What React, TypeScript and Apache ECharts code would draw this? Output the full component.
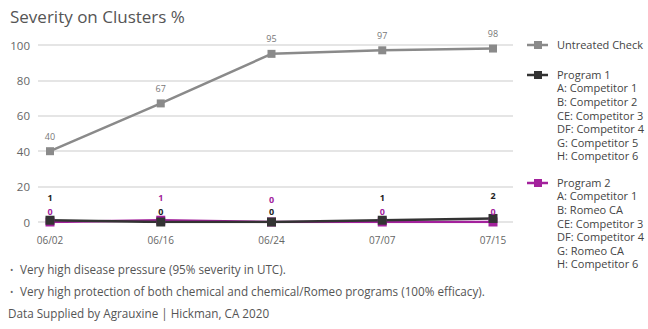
import React, { useEffect, useRef } from "react";
import * as echarts from "echarts";

const categories = ["06/02", "06/16", "06/24", "07/07", "07/15"];
const untreated = [40, 67, 95, 97, 98];
const program1 = [1, 0, 0, 1, 2];
const program2 = [0, 1, 0, 0, 0];
const yTicks = [0, 20, 40, 60, 80, 100];

const titleText = "Severity on Clusters %";
const legendUntreated = ["Untreated Check"];
const legendProgram1 = [
  "Program 1",
  "A: Competitor 1",
  "B: Competitor 2",
  "CE: Competitor 3",
  "DF: Competitor 4",
  "G: Competitor 5",
  "H: Competitor 6",
];
const legendProgram2 = [
  "Program 2",
  "A: Competitor 1",
  "B: Romeo CA",
  "CE: Competitor 3",
  "DF: Competitor 4",
  "G: Romeo CA",
  "H: Competitor 6",
];
const notes = [
  "Very high disease pressure (95% severity in UTC).",
  "Very high protection of both chemical and chemical/Romeo programs (100% efficacy).",
];
const sourceText = "Data Supplied by Agrauxine | Hickman, CA 2020";

const C_UNT = "#8a8a8a";
const C_P1 = "#333333";
const C_P2 = "#a3219c";
const FONT = "'Open Sans', sans-serif";

export default function App() {
  const ref = useRef<HTMLDivElement>(null);
  useEffect(() => {
    if (!ref.current) return;
    const chart = echarts.init(ref.current, null, { renderer: "svg" });

    const p1Data = program1.map((v, i) => {
      const upper = v > program2[i];
      return { value: v, label: { distance: upper ? 13 : 1 } };
    });
    const p2Data = program2.map((v, i) => {
      const upper = v >= program1[i];
      return { value: v, label: { distance: upper ? 13 : 1 } };
    });

    const legendBlock = (lines: string[], color: string, y: number) => [
      {
        type: "line",
        shape: { x1: 527, y1: y, x2: 548, y2: y },
        style: { stroke: color, lineWidth: 2.5 },
      },
      {
        type: "rect",
        shape: { x: 534, y: y - 4, width: 8, height: 8 },
        style: { fill: color },
      },
      {
        type: "text",
        x: 557,
        y: y - 7.5,
        style: {
          text: lines.join("\n"),
          font: `11px ${FONT}`,
          fill: "#444",
          lineHeight: 13.6,
        },
      },
    ];

    const smallLabel = { fontSize: 9, lineHeight: 10, fontFamily: FONT };

    const option: any = {
      animation: false,
      textStyle: { fontFamily: FONT },
      title: {
        text: titleText,
        left: 5,
        top: 3,
        textStyle: { fontSize: 17, fontWeight: "normal", color: "#555", fontFamily: FONT },
      },
      grid: [
        { left: 38, right: 135, top: 45, bottom: 107 },
        { left: 50, right: 155, top: 45, bottom: 107 },
      ],
      xAxis: [
        { gridIndex: 0, type: "value", show: false, min: 0, max: 1 },
        {
          gridIndex: 1,
          type: "category",
          data: categories,
          boundaryGap: false,
          axisLine: { show: false },
          axisTick: { show: false },
          axisLabel: { color: "#666", fontSize: 10, margin: 13, fontFamily: FONT },
        },
      ],
      yAxis: [
        {
          gridIndex: 0,
          type: "value",
          min: 0,
          max: 100,
          interval: 20,
          axisLine: { show: false },
          axisTick: { show: false },
          axisLabel: {
            color: "#666",
            fontSize: 11.5,
            margin: 8,
            fontFamily: FONT,
            formatter: (v: number) => (yTicks.includes(v) ? String(v) : ""),
          },
          splitLine: { lineStyle: { color: "#dcdcdc", width: 1.5 } },
        },
        { gridIndex: 1, type: "value", min: 0, max: 100, show: false, splitLine: { show: false } },
      ],
      series: [
        {
          name: "Untreated Check",
          type: "line",
          xAxisIndex: 1,
          yAxisIndex: 1,
          data: untreated,
          symbol: "rect",
          symbolSize: 8,
          lineStyle: { color: C_UNT, width: 2.5 },
          itemStyle: { color: C_UNT },
          label: { show: true, position: "top", distance: 6, color: "#777", ...smallLabel },
        },
        {
          name: "Program 2",
          type: "line",
          xAxisIndex: 1,
          yAxisIndex: 1,
          data: p2Data,
          symbol: "rect",
          symbolSize: 9,
          lineStyle: { color: C_P2, width: 2.5 },
          itemStyle: { color: C_P2 },
          label: { show: true, position: "top", color: C_P2, fontWeight: "bold", ...smallLabel },
        },
        {
          name: "Program 1",
          type: "line",
          xAxisIndex: 1,
          yAxisIndex: 1,
          data: p1Data,
          symbol: "rect",
          symbolSize: 9,
          lineStyle: { color: C_P1, width: 2.5 },
          itemStyle: { color: C_P1 },
          label: { show: true, position: "top", color: "#222", fontWeight: "bold", ...smallLabel },
        },
      ],
      graphic: [
        ...legendBlock(legendUntreated, C_UNT, 45),
        ...legendBlock(legendProgram1, C_P1, 75),
        ...legendBlock(legendProgram2, C_P2, 183),
        ...notes.flatMap((n, i) => [
          {
            type: "text",
            x: 10,
            y: 265 + i * 22,
            style: { text: "•", font: `9px ${FONT}`, fill: "#666" },
          },
          {
            type: "text",
            x: 20,
            y: 263 + i * 22,
            style: { text: n, font: `11.7px ${FONT}`, fill: "#555" },
          },
        ]),
        {
          type: "text",
          x: 8,
          y: 307,
          style: { text: sourceText, font: `11.7px ${FONT}`, fill: "#555" },
        },
      ],
    };
    chart.setOption(option);
    return () => chart.dispose();
  }, []);
  return (
    <div
      ref={ref}
      style={{ position: "fixed", left: 0, top: 0, width: 648, height: 329, background: "#fff" }}
    />
  );
}
